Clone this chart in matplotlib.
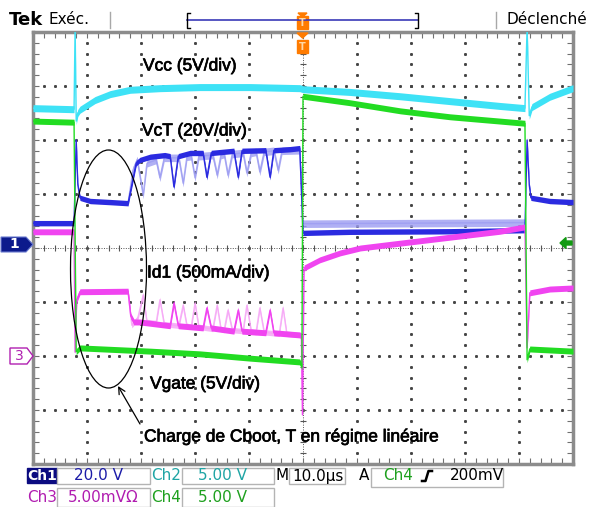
import numpy as np
import matplotlib.pyplot as plt
import matplotlib.patheffects as pe
from matplotlib.patches import Rectangle, Polygon, Ellipse

# time in us from the left edge of the screen (10 us/div), levels in screen divisions
vcc_t = [0, 7.6, 7.8, 8.0, 8.3, 8.7, 11.5, 14.3, 18.0, 23.5, 30.9, 40.2, 49.4, 50.0,
         58.7, 68.0, 77.2, 86.5, 91.1, 91.5, 91.9, 92.4, 95.7, 100]
vcc_v = [2.59, 2.57, 4.1, 2.35, 2.50, 2.56, 2.74, 2.85, 2.93, 2.96, 2.98, 2.98, 2.96, 2.94,
         2.89, 2.81, 2.72, 2.63, 2.59, 4.1, 2.45, 2.61, 2.80, 2.96]

vgate_t = [0, 7.6, 8.0, 8.7, 21.7, 30.9, 40.2, 49.4, 49.8, 50.0, 58.7, 68.0, 77.2,
           86.5, 91.1, 91.5, 92.0, 100]
vgate_v = [2.35, 2.33, -1.92, -1.85, -1.91, -1.96, -2.04, -2.11, -2.20, 2.81, 2.69, 2.54, 2.43,
           2.35, 2.31, -2.07, -1.87, -1.91]

vct_t = [0, 7.6, 8.0, 8.3, 8.7, 10.6, 14.3, 17.6, 18.3, 19.1, 19.8, 21.7, 24.4,
         25.4, 26.1, 26.9, 29.1, 31.5, 32.2, 33.0, 37.2, 38.0, 38.7, 43.1, 43.9, 44.6,
         47.6, 49.4, 49.6, 50.0, 58.7, 77.2, 91.1, 91.5, 91.9, 92.2, 95.7, 100]
vct_v = [0.46, 0.46, 2.0, 1.17, 0.93, 0.87, 0.85, 0.83, 1.17, 1.57, 1.63, 1.69, 1.72,
         1.70, 1.13, 1.70, 1.76, 1.76, 1.31, 1.76, 1.80, 1.31, 1.80, 1.81, 1.31, 1.81,
         1.83, 1.85, 1.35, 0.28, 0.30, 0.31, 0.33, 2.0, 1.17, 0.93, 0.87, 0.85]

# fainter persistence trace of VcT
vct_ghost_t = [17.6, 18.5, 19.3, 20.4, 21.1, 22.8, 23.5, 24.3, 27.0, 27.8, 28.5, 29.3, 30.0,
               30.7, 33.3, 34.1, 34.8, 35.4, 36.1, 36.9, 38.9, 39.6, 40.4, 41.3, 42.0, 42.8,
               44.6, 45.4, 46.1, 49.4, 50.0, 70.0, 91.1]
vct_ghost_v = [0.83, 1.44, 1.63, 0.98, 1.57, 1.63, 1.30, 1.67, 1.67, 1.20, 1.69, 1.70, 1.30,
               1.70, 1.72, 1.35, 1.72, 1.74, 1.35, 1.74, 1.76, 1.39, 1.76, 1.78, 1.41, 1.78,
               1.80, 1.44, 1.80, 1.81, 0.45, 0.46, 0.47]

id1_t = [0, 7.6, 7.8, 8.1, 8.7, 17.6, 18.1, 18.7, 19.8, 25.4, 26.1, 26.9, 31.5, 32.2, 33.0,
         37.2, 38.0, 38.7, 43.1, 43.9, 44.6, 49.4, 49.7, 49.9, 50.2, 53.1, 56.9, 60.6,
         68.0, 77.2, 86.5, 91.1, 91.5, 92.0, 95.7, 100]
id1_v = [0.30, 0.30, -1.93, -0.96, -0.81, -0.80, -1.26, -1.37, -1.37, -1.44, -1.02, -1.44,
         -1.48, -1.11, -1.48, -1.54, -1.15, -1.54, -1.57, -1.15, -1.57, -1.61, -1.63, -3.09,
         -0.37, -0.22, -0.09, 0.0, 0.09, 0.20, 0.31, 0.39, -1.85, -0.83, -0.76, -0.74]

id1_ghost_t = [17.6, 18.3, 19.4, 20.4, 21.1, 22.8, 23.5, 24.3, 27.0, 27.8, 28.5, 29.3, 30.0,
               30.7, 33.3, 34.1, 34.8, 35.4, 36.1, 36.9, 38.9, 39.6, 40.4, 41.3, 42.0, 42.8,
               45.6, 46.3, 47.0, 49.4]
id1_ghost_v = [-0.80, -1.43, -1.30, -0.87, -1.37, -1.39, -0.96, -1.41, -1.44, -1.06, -1.44,
               -1.46, -1.02, -1.46, -1.50, -1.06, -1.50, -1.52, -1.15, -1.52, -1.54, -1.06,
               -1.54, -1.56, -1.11, -1.56, -1.59, -1.11, -1.59, -1.61]

labels = ["Vcc (5V/div)", "VcT (20V/div)", "Id1 (500mA/div)", "Vgate (5V/div)"]
note = "Charge de Cboot, T en régime linéaire"

W, H = 597, 507
fig = plt.figure(figsize=(W / 100, H / 100), dpi=100)
fig.patch.set_facecolor('white')

ax = fig.add_axes([33 / W, 43 / H, 540 / W, 432 / H])
ax.set_xlim(0, 100)
ax.set_ylim(-4, 4)

# graticule: dotted division lines, finer marks on the centre cross
dots_y = np.arange(-4, 4.01, 0.2)
dots_x = np.arange(0, 100.1, 2)
for t in range(10, 100, 10):
    if t != 50:
        ax.plot(np.full_like(dots_y, t), dots_y, ls='none', marker='s', ms=1.1,
                color='#444444', zorder=1)
for v in range(-3, 4):
    if v != 0:
        ax.plot(dots_x, np.full_like(dots_x, v), ls='none', marker='s', ms=1.1,
                color='#444444', zorder=1)
ax.axhline(0, color='#555555', lw=0.7, ls=(0, (1, 1.5)), zorder=1)
ax.axvline(50, color='#555555', lw=0.7, ls=(0, (1, 1.5)), zorder=1)
ax.plot(dots_x, np.zeros_like(dots_x), ls='none', marker='|', ms=4, mew=0.8,
        color='#555555', zorder=1)
ax.plot(np.full_like(dots_y, 50), dots_y, ls='none', marker='_', ms=4, mew=0.8,
        color='#555555', zorder=1)

ax.set_xticks(np.arange(0, 101, 10))
ax.set_xticks(dots_x, minor=True)
ax.set_yticks(np.arange(-4, 5, 1))
ax.set_yticks(dots_y, minor=True)
ax.tick_params(which='both', direction='in', length=4, width=0.8, color='#707070',
               top=True, right=True, labelbottom=False, labelleft=False)
for sp in ax.spines.values():
    sp.set_color('#8c8c8c')
    sp.set_linewidth(2.5)


def draw_trace(t, v, color, half, lw=1.0, alpha=1.0, z=3):
    t = np.asarray(t)
    v = np.asarray(v)
    ax.fill_between(t, v - half, v + half, color=color, lw=0, alpha=alpha, zorder=z)
    ax.plot(t, v, color=color, lw=lw, alpha=alpha, zorder=z)


draw_trace(vct_ghost_t, vct_ghost_v, '#9c9cf2', 0.07, alpha=0.8, z=2)
draw_trace(vct_t, vct_v, '#2b2be0', 0.05, z=3)
draw_trace(id1_ghost_t, id1_ghost_v, '#f6a6f6', 0.05, alpha=0.85, z=2)
draw_trace(id1_t, id1_v, '#f044f0', 0.055, z=3)
draw_trace(vcc_t, vcc_v, '#3ee2f6', 0.065, z=4)
draw_trace(vgate_t, vgate_v, '#22dc22', 0.055, z=5)

# overlay in pixel coordinates for the screen furniture and annotations
ov = fig.add_axes([0, 0, 1, 1], zorder=5)
ov.set_xlim(0, W)
ov.set_ylim(H, 0)
ov.axis('off')

heavy = [pe.withStroke(linewidth=0.5, foreground='black')]
ann = dict(family='Liberation Sans', fontsize=12.5, va='center', ha='left', color='black',
           path_effects=heavy)
ov.text(143, 66, labels[0], **ann)
ov.text(142, 131, labels[1], **ann)
ov.text(147, 273, labels[2], **ann)
ov.text(150, 384, labels[3], **ann)
ov.text(144, 437, note, **ann)
ov.add_patch(Ellipse((108.5, 269), 76, 238, fill=False, ec='black', lw=0.9))
ov.annotate('', xy=(118, 386), xytext=(140, 424),
            arrowprops=dict(arrowstyle='->', lw=0.9, color='black', mutation_scale=12,
                            shrinkA=0, shrinkB=0))

# header
ov.text(9, 20, "Tek", fontsize=13, fontweight='bold', va='center', ha='left')
ov.text(48, 20, "Exéc.", fontsize=11, va='center', ha='left')
ov.text(587, 20, "Déclenché", fontsize=11, va='center', ha='right')
ov.plot([110, 110], [12, 28], color='#a8a8a8', lw=1)
ov.plot([496, 496], [12, 28], color='#a8a8a8', lw=1)
ov.plot([187, 418], [20, 20], color='#3a3ab8', lw=1.2)
ov.plot([190, 187, 187, 190], [13, 13, 28, 28], color='black', lw=1)
ov.plot([415, 418, 418, 415], [13, 13, 28, 28], color='black', lw=1)
orange = '#ff7b00'
ov.add_patch(Polygon([[298, 13], [307, 13], [302.5, 17]], color=orange))
ov.add_patch(Rectangle((297, 16), 11, 13, color=orange))
ov.text(302.5, 23, "T", color='#ffd9a8', fontsize=7, fontweight='bold', ha='center', va='center')
ov.add_patch(Polygon([[297, 33], [308, 33], [302.5, 38]], color=orange))
ov.add_patch(Rectangle((297, 40), 11, 13, color=orange))
ov.text(302.5, 47, "T", color='#ffd9a8', fontsize=7, fontweight='bold', ha='center', va='center')

# ground / trigger markers
ov.add_patch(Polygon([[1, 237], [26, 237], [33, 244.5], [26, 252], [1, 252]],
                     fc='#0c1a8c', ec='#6a7ad0', lw=0.8))
ov.text(14, 244.5, "1", color='white', fontsize=10, fontweight='bold', ha='center', va='center')
ov.add_patch(Polygon([[10, 348], [27, 348], [33, 356], [27, 364], [10, 364]],
                     fc='white', ec='#b020b0', lw=1))
ov.text(19, 356, "3", color='#b020b0', fontsize=10, ha='center', va='center')
ov.add_patch(Polygon([[560, 243], [566, 237.5], [566, 241], [572, 241], [572, 245],
                      [566, 245], [566, 248.5]], color='#129a12'))


# readout boxes
def box(x0, y0, x1, y1):
    ov.add_patch(Rectangle((x0, y0), x1 - x0, y1 - y0, fc='white', ec='#b4b4b4', lw=1))


ro = dict(fontsize=11, va='center', ha='center')
ov.add_patch(Rectangle((27, 468), 30, 15, color='#0b0b80'))
ov.text(42, 475.5, "Ch1", color='white', fontsize=10, fontweight='bold', va='center', ha='center')
box(57, 468, 150, 484)
ov.text(98, 476, "20.0 V", color='#1c1ca8', **ro)
ov.text(166, 476, "Ch2", color='#1fa5a5', **ro)
box(182, 468, 274, 484)
ov.text(222, 476, "5.00 V", color='#1fa5a5', **ro)
ov.text(282, 476, "M", color='black', **ro)
box(289, 468, 345, 484)
ov.text(318, 476, "10.0µs", color='black', **ro)
ov.text(364, 476, "A", color='black', **ro)
box(371, 468, 503, 487)
ov.text(398, 476, "Ch4", color='#1ea01e', **ro)
ov.plot([422, 425.5, 428.5, 432], [481, 481, 471, 471], color='black', lw=1.8)
ov.text(477, 476, "200mV", color='black', **ro)
ov.text(42, 497, "Ch3", color='#b01cb0', **ro)
box(57, 488, 150, 507)
ov.text(103, 497, "5.00mVΩ", color='#b01cb0', **ro)
ov.text(166, 497, "Ch4", color='#1ea01e', **ro)
box(182, 488, 274, 507)
ov.text(222, 497, "5.00 V", color='#1ea01e', **ro)

fig.savefig('out.png', dpi=100)
